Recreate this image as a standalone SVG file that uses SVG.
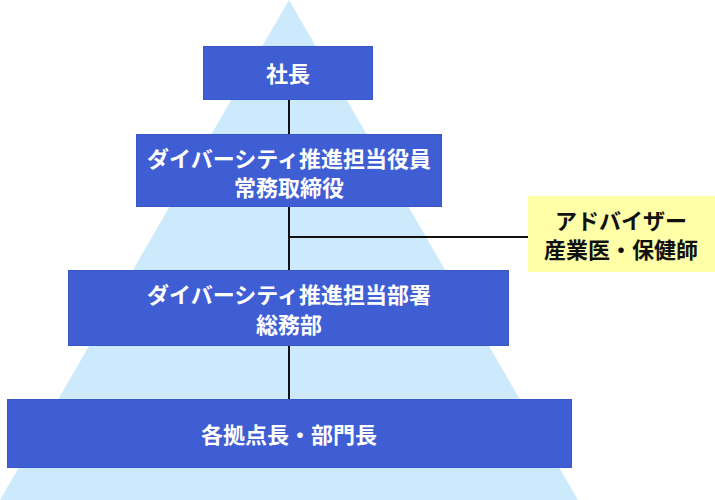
<svg xmlns="http://www.w3.org/2000/svg" width="715" height="500" viewBox="0 0 715 500">
<style>
.box{fill:#405ED3;stroke:#3A57C8;stroke-width:1}
.adv{fill:#FFFFA8}
.t{font-family:"Noto Sans CJK JP","Noto Sans CJK SC",sans-serif;font-weight:700;font-size:22px;text-anchor:middle;dominant-baseline:central}
.w{fill:#FFFFFF}
.k{fill:#111111}
.ln{stroke:#111111;stroke-width:2;fill:none}
</style>
<rect width="715" height="500" fill="#FFFFFF"/>
<polygon id="pyramid" points="289,0 0,500 578,500" fill="#CCEAFC"/>
<g id="connectors">
<line class="ln" x1="289" y1="99" x2="289" y2="399"/>
<line class="ln" x1="289" y1="237" x2="528" y2="237"/>
</g>
<g id="president">
<rect class="box" x="203.5" y="46.5" width="169" height="53"/>
<text class="t w" x="288" y="72">社長</text>
</g>
<g id="officer">
<rect class="box" x="136.5" y="134.5" width="305" height="72"/>
<text class="t w" x="289" y="157">ダイバーシティ推進担当役員</text>
<text class="t w" x="289" y="186">常務取締役</text>
</g>
<g id="department">
<rect class="box" x="68.5" y="270.5" width="440" height="75"/>
<text class="t w" x="289" y="293">ダイバーシティ推進担当部署</text>
<text class="t w" x="289" y="323">総務部</text>
</g>
<g id="managers">
<rect class="box" x="7.5" y="399.5" width="564" height="68"/>
<text class="t w" x="289" y="433">各拠点長・部門長</text>
</g>
<g id="advisor">
<rect class="adv" x="528" y="196" width="187" height="76"/>
<text class="t k" x="621" y="218.5">アドバイザー</text>
<text class="t k" x="621" y="247.5">産業医・保健師</text>
</g>
</svg>
